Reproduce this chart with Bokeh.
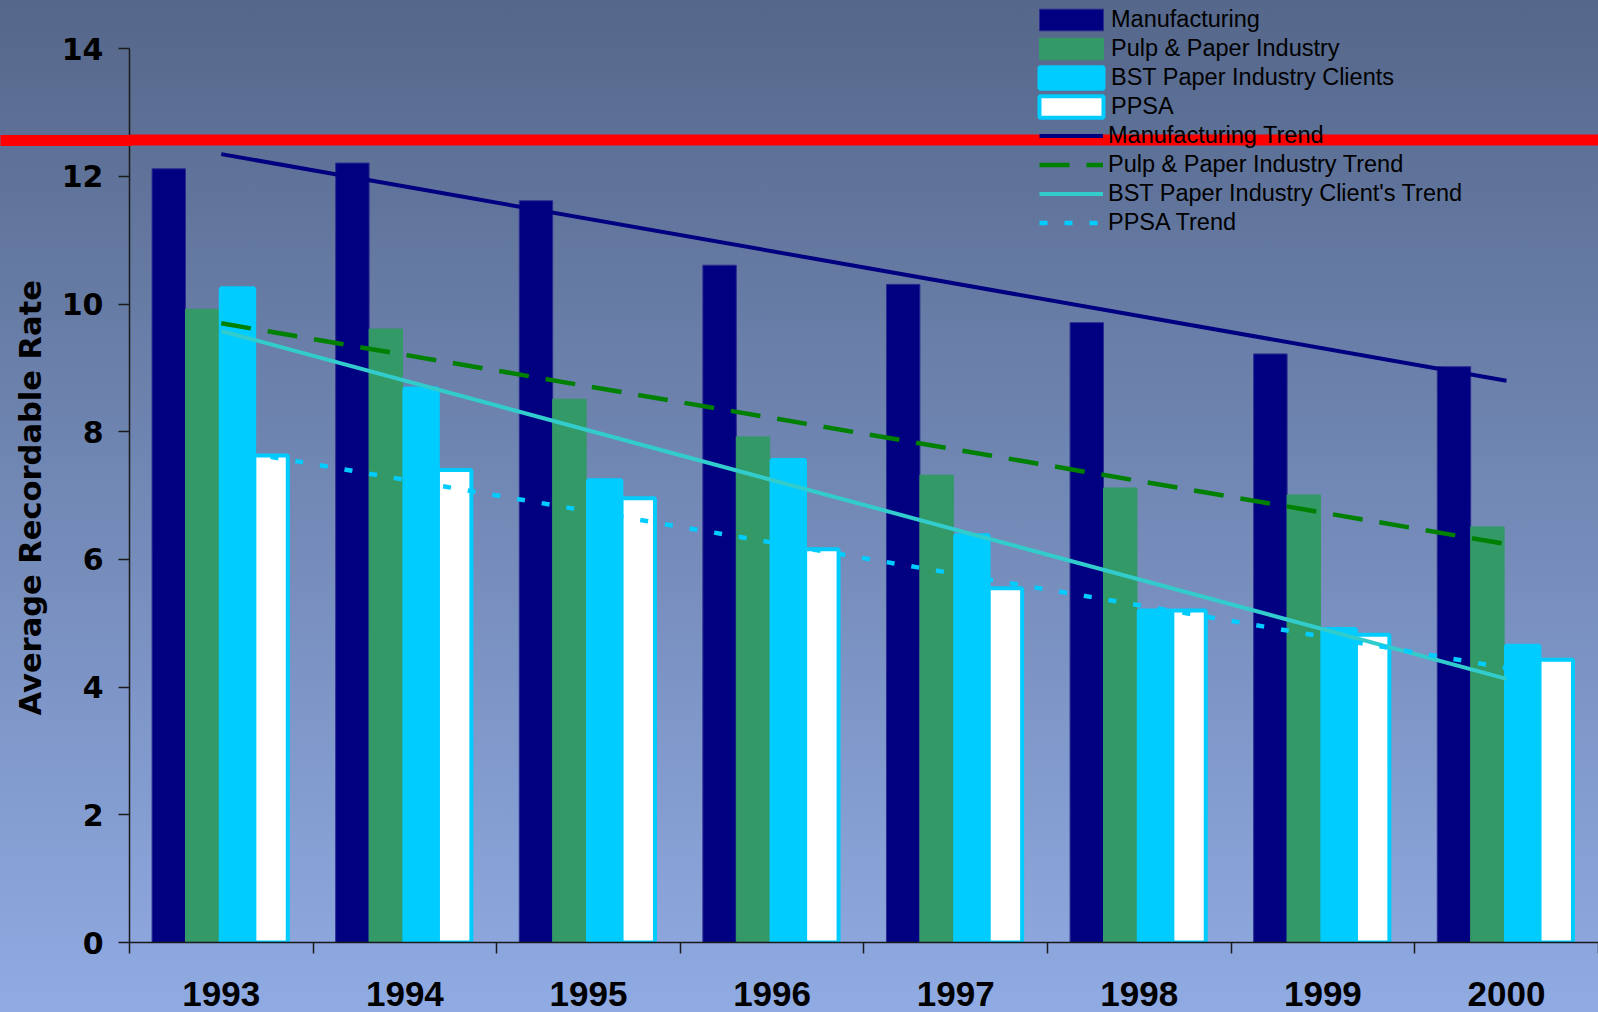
from bokeh.plotting import figure
from bokeh.models import (Range1d, FixedTicker, Legend, LegendItem, Span, Title,
                          LinearAxis, ColumnDataSource)
from bokeh.transform import dodge
from bokeh.embed import file_html
from bokeh.resources import INLINE

# ---------------- data ----------------
years = ["1993", "1994", "1995", "1996", "1997", "1998", "1999", "2000"]
manufacturing = [12.12, 12.21, 11.62, 10.61, 10.31, 9.71, 9.22, 9.02]
pulp_paper = [9.92, 9.61, 8.51, 7.92, 7.32, 7.12, 7.01, 6.51]
bst_clients = [10.25, 8.68, 7.24, 7.56, 6.38, 5.20, 4.91, 4.65]
ppsa = [7.63, 7.40, 6.96, 6.16, 5.55, 5.20, 4.82, 4.43]

# trend lines: value at 1993 and at 2000
trend_names = ["Manufacturing Trend", "Pulp & Paper Industry Trend",
               "BST Paper Industry Client's Trend", "PPSA Trend"]
trend_start = [12.35, 9.70, 9.58, 7.74]
trend_end = [8.80, 6.24, 4.13, 4.30]

benchmark = 12.57          # red reference line
y_ticks = [0, 2, 4, 6, 8, 10, 12, 14]

# ---------------- figure ----------------
W, H = 1598, 1012
LEFT, BOTTOM = 129, 70
frame_w = W - LEFT
px_per_cat = 183.6
x_end = frame_w / px_per_cat
y_top = 14 + 48.3 / 63.85

p = figure(width=W, height=H, output_backend="svg", toolbar_location=None,
           x_range=Range1d(0, x_end), y_range=Range1d(0, y_top),
           min_border_left=LEFT, min_border_right=0, min_border_top=0,
           min_border_bottom=BOTTOM)
p.border_fill_alpha = 0
p.background_fill_alpha = 0
p.outline_line_color = None
p.grid.visible = False
p.styles = {"background": "linear-gradient(to bottom, #55678a 0%, #90abe3 100%)"}

centers = [i + 0.5 for i in range(len(years))]
src = ColumnDataSource(dict(x=centers, man=manufacturing, pulp=pulp_paper,
                            bst=bst_clients, ppsa=ppsa))

bw = 0.182
r_man = p.vbar(x=dodge("x", -0.286, range=p.x_range), top="man", width=bw, source=src,
               fill_color="#000080", line_color="#2c2c90", line_width=1)
r_pulp = p.vbar(x=dodge("x", -0.104, range=p.x_range), top="pulp", width=bw, source=src,
                fill_color="#339966", line_color="#339966", line_width=1)
r_bst = p.vbar(x=dodge("x", 0.088, range=p.x_range), top="bst", width=bw, source=src,
               fill_color="#00ccff", line_color="#00ccff", line_width=4)
r_ppsa = p.vbar(x=dodge("x", 0.271, range=p.x_range), top="ppsa", width=bw, source=src,
                fill_color="white", line_color="#00ccff", line_width=4)

trend_styles = [
    dict(line_color="#000080", line_width=4),
    dict(line_color="#008000", line_width=4.5, line_dash="30 17"),
    dict(line_color="#33cccc", line_width=4),
    dict(line_color="#00ccff", line_width=4.5, line_dash="8 17"),
]
trend_r = []
for s, e, st in zip(trend_start, trend_end, trend_styles):
    trend_r.append(p.line(x=[centers[0], centers[-1]], y=[s, e], **st))

# red benchmark line across the plot area
RED_W = 11
p.add_layout(Span(location=benchmark, dimension="width", line_color="#ff0000",
                  line_width=RED_W))

# ---------------- axes ----------------
AX = "#1a1a1a"
yax = p.yaxis[0]
yax.ticker = FixedTicker(ticks=y_ticks, minor_ticks=[])
yax.bounds = (0, 14)
yax.major_tick_out = 11
yax.major_tick_in = 0
yax.minor_tick_out = 0
yax.minor_tick_in = 0
yax.minor_tick_line_color = None
yax.axis_line_color = AX
yax.axis_line_width = 1.5
yax.major_tick_line_color = AX
yax.major_tick_line_width = 1.5
yax.major_label_text_font = "DejaVu Sans"
yax.major_label_text_font_style = "bold"
yax.major_label_text_font_size = "30px"
yax.major_label_text_color = "black"
yax.major_label_standoff = 15

p.add_layout(Title(text="Average Recordable Rate", align="left", offset=227,
                   text_font="DejaVu Sans", text_font_style="bold",
                   text_font_size="30.5px", text_color="black", standoff=21), "left")

# outermost, label-less axis whose single red tick carries the benchmark line
# across the axis area to the left edge of the picture
RED_OUT = 0
red_axis = LinearAxis(ticker=FixedTicker(ticks=[benchmark], minor_ticks=[]),
                      major_tick_out=RED_OUT, major_tick_in=LEFT + 2,
                      major_tick_line_color="#ff0000", major_tick_line_width=RED_W,
                      minor_tick_line_color=None, minor_tick_out=0, minor_tick_in=0,
                      axis_line_color=None, major_label_standoff=0,
                      major_label_overrides={benchmark: ""})
p.add_layout(red_axis, "left")

xax = p.xaxis[0]
xax.ticker = FixedTicker(ticks=centers, minor_ticks=list(range(len(years) + 1)))
xax.major_label_overrides = {c: y for c, y in zip(centers, years)}
xax.major_tick_out = 0
xax.major_tick_in = 0
xax.major_tick_line_color = None
xax.minor_tick_out = 11
xax.minor_tick_in = 0
xax.minor_tick_line_color = AX
xax.minor_tick_line_width = 1.5
xax.axis_line_color = AX
xax.axis_line_width = 1.5
xax.major_label_text_font = "Liberation Sans"
xax.major_label_text_font_style = "bold"
xax.major_label_text_font_size = "35px"
xax.major_label_text_color = "black"
xax.major_label_standoff = 28

# ---------------- legends ----------------
common = dict(padding=0, margin=0, border_line_color=None, background_fill_alpha=0,
              label_text_font="Liberation Sans", label_text_font_size="23.5px",
              label_text_color="black", spacing=2, label_height=27, glyph_height=27)
leg_bars = Legend(items=[LegendItem(label="Manufacturing", renderers=[r_man]),
                         LegendItem(label="Pulp & Paper Industry", renderers=[r_pulp]),
                         LegendItem(label="BST Paper Industry Clients", renderers=[r_bst]),
                         LegendItem(label="PPSA", renderers=[r_ppsa])],
                  location=(902, 822), glyph_width=80, label_standoff=-3, **common)
leg_lines = Legend(items=[LegendItem(label=n, renderers=[r]) for n, r in zip(trend_names, trend_r)],
                   location=(910, 706), glyph_width=64, label_standoff=5, **common)
p.add_layout(leg_bars)
p.add_layout(leg_lines)

open("out.html", "w").write(file_html(p, INLINE))
